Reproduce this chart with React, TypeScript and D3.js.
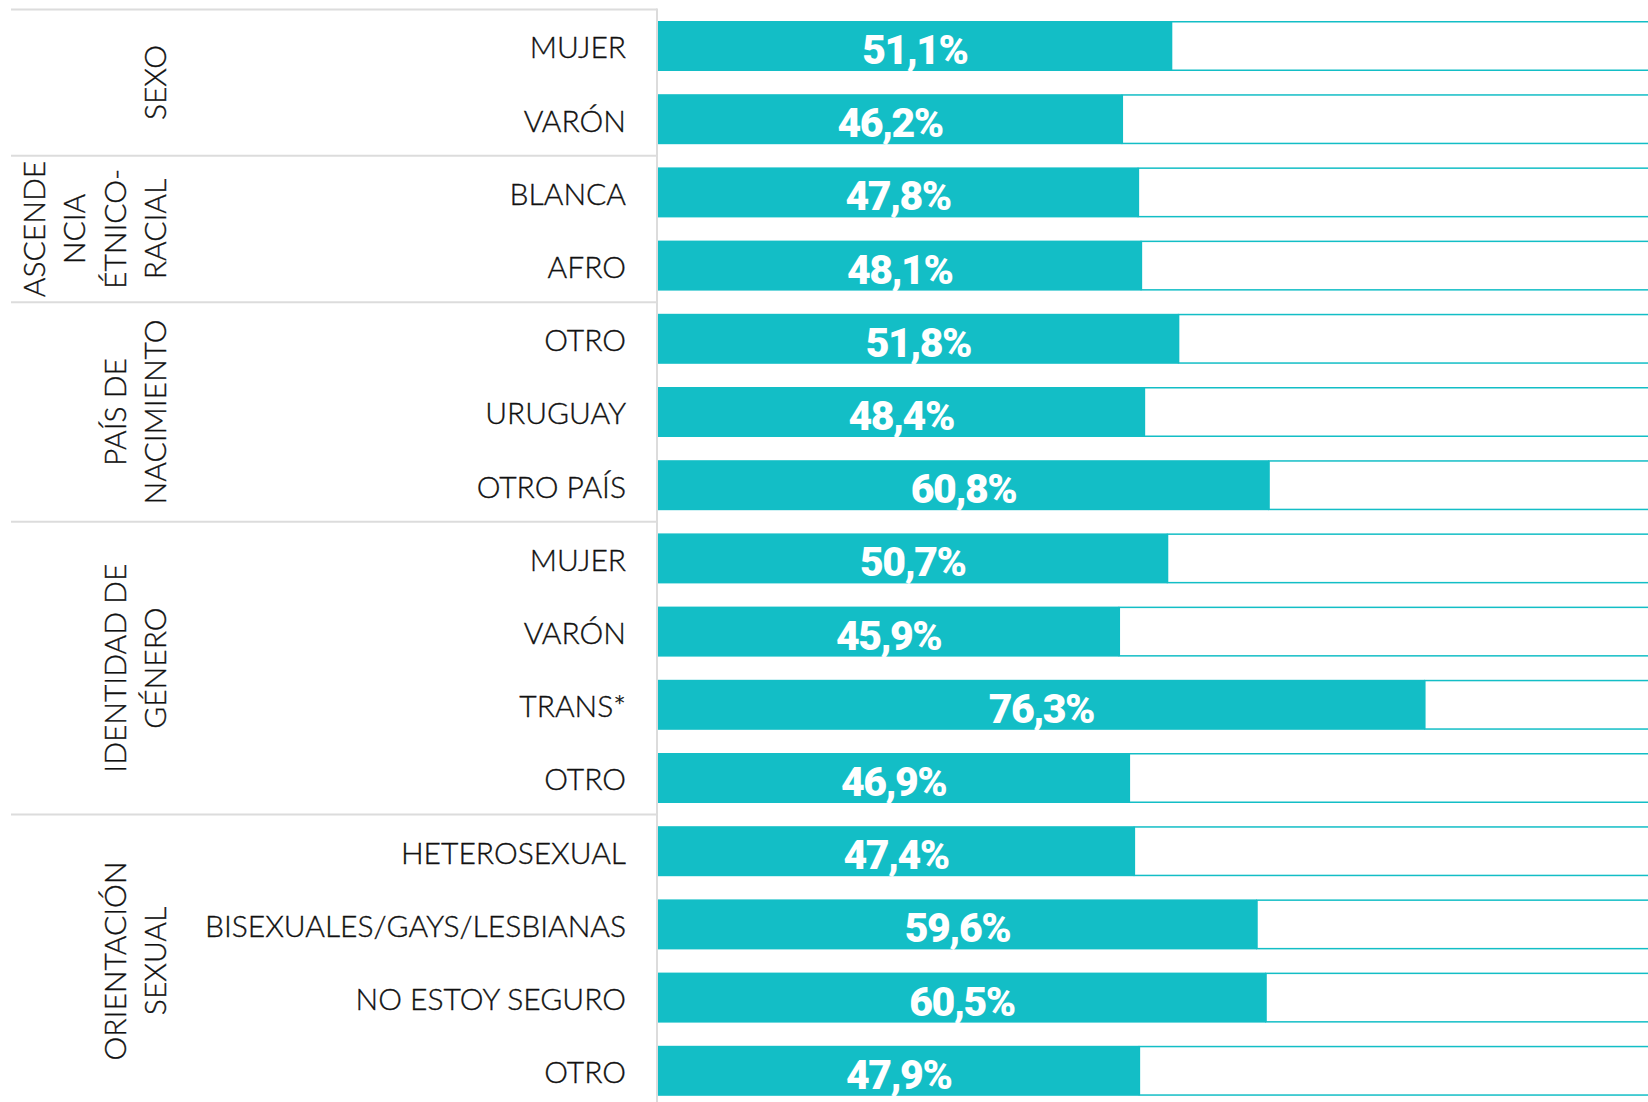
import React from 'react';
import * as d3 from 'd3';

// row labels, top to bottom
const categories = [
  'MUJER', 'VARÓN',
  'BLANCA', 'AFRO',
  'OTRO', 'URUGUAY', 'OTRO PAÍS',
  'MUJER', 'VARÓN', 'TRANS*', 'OTRO',
  'HETEROSEXUAL', 'BISEXUALES/GAYS/LESBIANAS', 'NO ESTOY SEGURO', 'OTRO',
];

// percentage for each row
const values = [51.1, 46.2, 47.8, 48.1, 51.8, 48.4, 60.8, 50.7, 45.9, 76.3, 46.9, 47.4, 59.6, 60.5, 47.9];

// how many rows each group holds
const groupSizes = [2, 2, 3, 4, 4];

// group titles, already broken into lines as in the original
const groupLines = [
  ['SEXO'],
  ['ASCENDE', 'NCIA', 'ÉTNICO-', 'RACIAL'],
  ['PAÍS DE', 'NACIMIENTO'],
  ['IDENTIDAD DE', 'GÉNERO'],
  ['ORIENTACIÓN', 'SEXUAL'],
];

const W = 1648;
const H = 1102;
const TEAL = '#13bec6';
const GRID = '#dcdcdc';
const INK = '#111111';
const LABEL_FONT = "Lato, 'Open Sans', sans-serif";

const App = () => {
  const idx = d3.range(categories.length);

  const y = d3.scaleBand<number>()
    .domain(idx)
    .range([9.4, 9.4 + 73.2 * categories.length])
    .paddingInner(0.317)
    .paddingOuter(0.1585);

  const x = d3.scaleLinear().domain([0, 100]).range([658, 1663]);

  const step = y.step();
  const top = y.range()[0];
  const fmt = (v: number) => d3.format('.1f')(v).replace('.', ',') + '%';

  // group boundaries in row units
  const bounds = [0, ...d3.cumsum(groupSizes)];

  return (
    <svg width={W} height={H} style={{ position: 'absolute', left: 0, top: 0, background: '#fff' }}>
      {/* separators */}
      {bounds.slice(0, -1).map((b, i) => (
        <line key={'sep' + i} x1={11} x2={657} y1={top + b * step} y2={top + b * step}
          stroke={GRID} strokeWidth={2} />
      ))}
      <line x1={657} x2={657} y1={top - 1} y2={H} stroke={GRID} strokeWidth={2} />

      {/* group titles */}
      {groupLines.map((lines, g) => {
        const cy = top + ((bounds[g] + bounds[g + 1]) / 2) * step;
        return lines.map((ln, k) => {
          const bx = 166 - 40.3 * (lines.length - 1 - k);
          return (
            <text key={'g' + g + '-' + k} transform={`translate(${bx},${cy}) rotate(-90)`}
              textAnchor="middle" fontFamily={LABEL_FONT} fontWeight={300} fontSize={30}
              fill={INK} stroke={INK} strokeWidth={0.35}>{ln}</text>
          );
        });
      })}

      {/* rows */}
      {idx.map(i => {
        const y0 = y(i) as number;
        const bh = y.bandwidth();
        const cy = y0 + bh / 2;
        return (
          <g key={'r' + i}>
            <text x={626} y={cy + 12.3} textAnchor="end"
              fontFamily={LABEL_FONT} fontWeight={300} fontSize={30} fill={INK}
              stroke={INK} strokeWidth={0.35}>{categories[i]}</text>
            <rect x={x(values[i])} y={y0 + 0.75} width={x(100) - x(values[i])} height={bh - 1.5}
              fill="#fff" stroke={TEAL} strokeWidth={1.5} />
            <rect x={x(0)} y={y0} width={x(values[i]) - x(0)} height={bh} fill={TEAL} />
            <text x={(x(0) + x(values[i])) / 2} y={cy + 18} textAnchor="middle"
              fontFamily="Roboto, sans-serif" fontWeight={900} fontSize={41} fill="#fff"
              letterSpacing={-1.5}>{fmt(values[i])}</text>
          </g>
        );
      })}
    </svg>
  );
};

export default App;
